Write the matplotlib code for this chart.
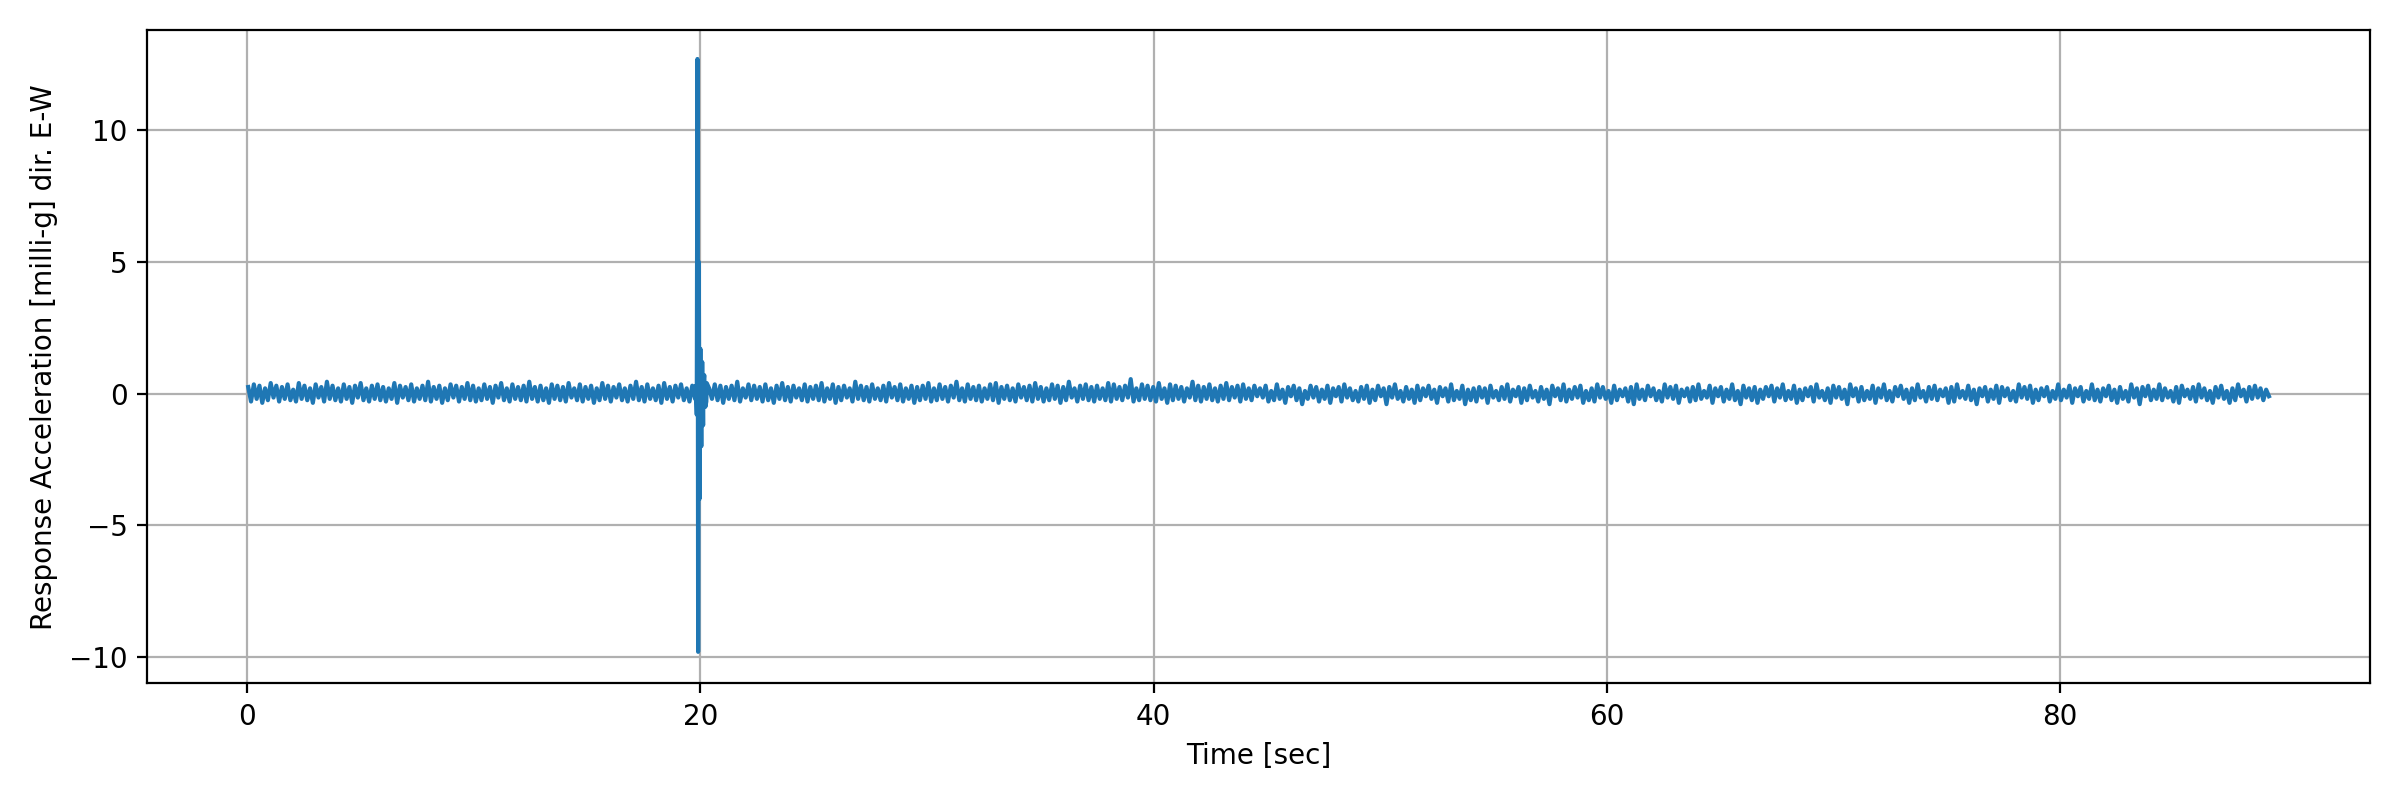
import numpy as np
import matplotlib
matplotlib.use("Agg")
import matplotlib.pyplot as plt

# background noise samples, first half of record (approx. band -0.35..0.45)
noise_a = [
 0.25,-0.30,0.35,-0.20,0.30,-0.35,0.20,-0.25,0.40,-0.15,0.30,-0.30,0.25,-0.20,0.35,-0.25,0.15,-0.30,0.40,-0.20,
 0.30,-0.25,0.20,-0.35,0.35,-0.15,0.25,-0.30,0.45,-0.20,0.30,-0.25,0.20,-0.30,0.35,-0.20,0.25,-0.35,0.30,-0.15,
 0.40,-0.25,0.20,-0.30,0.30,-0.20,0.35,-0.25,0.25,-0.30,0.20,-0.20,0.40,-0.35,0.30,-0.15,0.25,-0.25,0.35,-0.30,
 0.20,-0.20,0.30,-0.25,0.45,-0.30,0.25,-0.20,0.30,-0.35,0.20,-0.25,0.35,-0.15,0.30,-0.30,0.25,-0.20,0.40,-0.25,
 0.30,-0.30,0.20,-0.25,0.35,-0.20,0.25,-0.35,0.30,-0.15,0.40,-0.25,0.20,-0.30,0.35,-0.20,0.25,-0.25,0.30,-0.30,
 0.45,-0.20,0.25,-0.30,0.30,-0.25,0.20,-0.35,0.35,-0.20,0.30,-0.25,0.25,-0.30,0.40,-0.15,0.20,-0.25,0.35,-0.30,
 0.25,-0.20,0.30,-0.35,0.20,-0.25,0.40,-0.20,0.30,-0.30,0.25,-0.15,0.35,-0.25,0.20,-0.30,0.30,-0.20,0.45,-0.25,
 0.25,-0.30,0.35,-0.20,0.20,-0.25,0.30,-0.35,0.40,-0.20,0.25,-0.30,0.30,-0.15,0.35,-0.25,0.20,-0.30,0.30,-0.20,
 0.25,-0.25,0.40,-0.30,0.20,-0.20,0.35,-0.25,0.30,-0.35,0.25,-0.20,0.30,-0.25,0.45,-0.30,0.20,-0.15,0.35,-0.25,
 0.30,-0.20,0.25,-0.30,0.35,-0.25,0.20,-0.35,0.30,-0.20,0.40,-0.25,0.25,-0.30,0.30,-0.15,0.20,-0.25,0.35,-0.30,
 0.25,-0.20,0.30,-0.25,0.40,-0.30,0.20,-0.20,0.35,-0.35,0.25,-0.25,0.30,-0.15,0.20,-0.30,0.45,-0.20,0.30,-0.25,
 0.25,-0.30,0.35,-0.20,0.20,-0.25,0.30,-0.30,0.40,-0.15,0.25,-0.25,0.35,-0.30,0.20,-0.20,0.30,-0.35,0.25,-0.25,
 0.30,-0.20,0.40,-0.30,0.20,-0.25,0.35,-0.20,0.25,-0.30,0.30,-0.15,0.45,-0.25,0.20,-0.30,0.35,-0.20,0.25,-0.25,
 0.30,-0.30,0.20,-0.20,0.35,-0.25,0.40,-0.35,0.25,-0.20,0.30,-0.25,0.20,-0.30,0.35,-0.15,0.25,-0.25,0.30,-0.30,
 0.40,-0.20,0.25,-0.30,0.20,-0.25,0.35,-0.20,0.30,-0.35,0.25,-0.25,0.45,-0.15,0.20,-0.30,0.30,-0.20,0.35,-0.25,
 0.25,-0.30,0.30,-0.20,0.20,-0.25,0.40,-0.30,0.35,-0.20,0.25,-0.25,0.30,-0.15,0.55,-0.30,0.20,-0.25,0.35,-0.20,
 0.30,-0.25,0.25,-0.30,0.40,-0.20,0.20,-0.35,0.35,-0.25,0.30,-0.20,0.25,-0.30,0.20,-0.15,0.45,-0.25,0.30,-0.30,
 0.25,-0.20,0.35,-0.25,0.20,-0.30,0.30,-0.20,0.40,-0.25,0.25,-0.15,0.30,-0.30,0.35,-0.20,0.20,-0.25,0.30,-0.10,
]
# background noise samples, second half of record
noise_b = [
 0.20,-0.15,0.30,-0.30,0.10,-0.25,0.35,-0.20,0.15,-0.35,0.25,-0.10,0.30,-0.25,0.20,-0.40,0.10,-0.20,0.30,-0.15,
 0.25,-0.30,0.15,-0.20,0.30,-0.35,0.20,-0.10,0.25,-0.30,0.35,-0.15,0.20,-0.25,0.10,-0.30,0.25,-0.20,0.30,-0.35,
 0.15,-0.25,0.30,-0.10,0.20,-0.40,0.25,-0.15,0.35,-0.20,0.10,-0.30,0.25,-0.20,0.15,-0.35,0.30,-0.25,0.20,-0.10,
 0.30,-0.20,0.15,-0.35,0.25,-0.10,0.20,-0.30,0.35,-0.25,0.10,-0.20,0.30,-0.40,0.15,-0.25,0.20,-0.30,0.25,-0.15,
 0.20,-0.35,0.30,-0.15,0.10,-0.25,0.25,-0.20,0.35,-0.30,0.15,-0.10,0.25,-0.35,0.20,-0.25,0.30,-0.15,0.10,-0.30,
 0.25,-0.20,0.15,-0.40,0.30,-0.10,0.20,-0.25,0.35,-0.30,0.15,-0.20,0.25,-0.15,0.30,-0.35,0.10,-0.25,0.20,-0.30,
 0.35,-0.15,0.25,-0.20,0.10,-0.35,0.30,-0.25,0.15,-0.10,0.20,-0.30,0.25,-0.40,0.35,-0.20,0.15,-0.25,0.30,-0.10,
 0.20,-0.25,0.10,-0.30,0.35,-0.15,0.25,-0.20,0.30,-0.35,0.15,-0.10,0.20,-0.30,0.25,-0.25,0.35,-0.20,0.10,-0.15,
 0.30,-0.35,0.20,-0.10,0.25,-0.30,0.15,-0.20,0.35,-0.25,0.10,-0.40,0.30,-0.15,0.20,-0.25,0.25,-0.35,0.15,-0.20,
 0.25,-0.10,0.30,-0.30,0.20,-0.15,0.35,-0.25,0.10,-0.20,0.30,-0.35,0.15,-0.25,0.20,-0.10,0.25,-0.30,0.35,-0.15,
 0.10,-0.25,0.20,-0.35,0.30,-0.15,0.25,-0.20,0.15,-0.40,0.35,-0.10,0.20,-0.30,0.25,-0.25,0.10,-0.20,0.30,-0.35,
 0.20,-0.15,0.35,-0.25,0.10,-0.30,0.25,-0.10,0.30,-0.20,0.15,-0.35,0.20,-0.25,0.35,-0.15,0.10,-0.30,0.25,-0.20,
 0.30,-0.25,0.15,-0.10,0.20,-0.35,0.25,-0.30,0.35,-0.15,0.10,-0.20,0.30,-0.25,0.15,-0.40,0.20,-0.10,0.25,-0.30,
 0.15,-0.20,0.30,-0.35,0.25,-0.10,0.20,-0.25,0.10,-0.30,0.35,-0.15,0.25,-0.20,0.30,-0.35,0.15,-0.25,0.20,-0.10,
 0.25,-0.30,0.10,-0.20,0.35,-0.25,0.15,-0.15,0.30,-0.35,0.20,-0.10,0.25,-0.30,0.10,-0.20,0.35,-0.25,0.15,-0.30,
 0.20,-0.10,0.30,-0.25,0.15,-0.35,0.25,-0.20,0.10,-0.30,0.35,-0.15,0.20,-0.40,0.25,-0.10,0.30,-0.25,0.15,-0.20,
 0.35,-0.25,0.20,-0.15,0.10,-0.30,0.25,-0.35,0.30,-0.10,0.15,-0.20,0.25,-0.30,0.35,-0.15,0.20,-0.25,0.10,-0.35,
 0.25,-0.15,0.30,-0.20,0.10,-0.35,0.20,-0.25,0.35,-0.10,0.15,-0.30,0.25,-0.20,0.30,-0.15,0.20,-0.25,0.15,-0.10,
]
noise_vals = noise_a + noise_b
dt = 0.124
noise_t = np.arange(len(noise_vals)) * dt + 0.05

# impulse near t = 20 s
spike_t = [19.80, 19.84, 19.87, 19.90, 19.93, 19.96, 20.00, 20.04, 20.08, 20.12, 20.17, 20.22, 20.28]
spike_v = [0.30, -0.80, 12.70, -9.80, 5.00, -4.00, 1.70, -2.00, 1.20, -1.20, 0.70, -0.50, 0.40]

t = np.concatenate([noise_t, spike_t])
v = np.concatenate([noise_vals, spike_v])
order = np.argsort(t)
t, v = t[order], v[order]

fig, ax = plt.subplots(figsize=(12, 4), dpi=200)
ax.plot(t, v, color="#1f77b4", linewidth=1.5)
ax.set_xlabel("Time [sec]")
ax.set_ylabel("Response Acceleration [milli-g] dir. E-W")
ax.set_ylim(-11, 13.8)
ax.set_xticks([0, 20, 40, 60, 80])
ax.set_yticks([-10, -5, 0, 5, 10])
ax.grid(True)
fig.tight_layout()
fig.savefig("out.png")
